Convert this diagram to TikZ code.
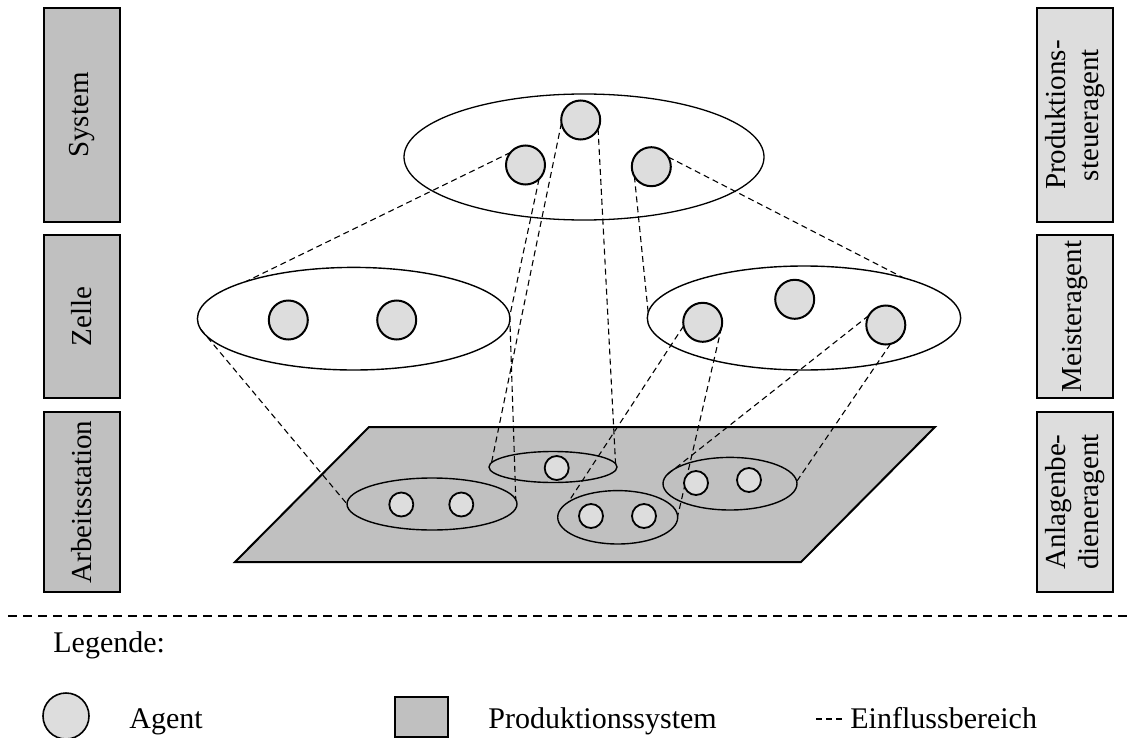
\documentclass[tikz,border=0pt]{standalone}
\usepackage{fontspec}
\setmainfont{Liberation Serif}
\usetikzlibrary{shapes.geometric}
\definecolor{planegray}{HTML}{C0C0C0}
\definecolor{agentgray}{HTML}{DDDDDD}
\begin{document}
\begin{tikzpicture}[x=0.5pt,y=-0.5pt,
  font=\fontsize{14.5}{16.5}\selectfont,
  agent/.style={circle,draw,line width=1pt,fill=agentgray,inner sep=0pt,outer sep=0pt,minimum size=19.5pt},
  smallagent/.style={agent,line width=0.9pt,minimum size=12pt},
  group/.style={ellipse,draw,line width=0.7pt,inner sep=0pt,outer sep=0pt},
  influence/.style={dash pattern=on 3pt off 2pt,line width=0.55pt},
  levelbox/.style={draw,line width=0.6pt,fill=planegray,rotate=90,minimum height=38pt,inner sep=0pt,outer sep=0pt,align=center},
  rolebox/.style={levelbox,fill=agentgray},
  label/.style={anchor=base west,inner sep=0pt,font=\fontsize{15}{17}\selectfont}]
\useasboundingbox (0,0) rectangle (1129,738);

% production floor
\coordinate (p1) at (235,562);
\coordinate (p2) at (801,562);
\coordinate (p3) at (935,427);
\coordinate (p4) at (369,427);
\draw[fill=planegray,line width=1pt] (p1) -- (p2) -- (p3) -- (p4) -- cycle;

% level and role boxes
\node[levelbox,minimum width=107pt] (lsys) at (82,115) {System};
\node[levelbox,minimum width=81.5pt] (lcell) at (82,316.5) {Zelle};
\node[levelbox,minimum width=90pt] (lws) at (82,502) {Arbeitsstation};
\node[rolebox,minimum width=107pt] (rsys) at (1075,115) {Produktions-\\steueragent};
\node[rolebox,minimum width=81.5pt] (rcell) at (1075,316.5) {Meisteragent};
\node[rolebox,minimum width=90pt] (rws) at (1075,502) {Anlagenbe-\\dieneragent};

% groups
\node[group,line width=0.65pt,minimum width=180pt,minimum height=63pt] (gs) at (584,157) {};
\node[group,minimum width=156.3pt,minimum height=51.3pt] (gl) at (353.7,318.7) {};
\node[group,minimum width=156.7pt,minimum height=52pt] (gr) at (804,318) {};
\node[group,minimum width=85pt,minimum height=26pt] (w1) at (432,504) {};
\node[group,minimum width=64pt,minimum height=15.5pt] (w2) at (553,467) {};
\node[group,minimum width=60pt,minimum height=26.7pt] (w3) at (617.7,517.3) {};
\node[group,minimum width=67pt,minimum height=26.3pt] (w4) at (730,483.7) {};

% agents of the system and cell levels
\node[agent] (s1) at (525.5,165) {};
\node[agent] (s2) at (580.7,120) {};
\node[agent] (s3) at (651.3,166.7) {};
\node[agent] (l1) at (288.3,320) {};
\node[agent] (l2) at (396.7,320) {};
\node[agent] (r1) at (702.7,322.3) {};
\node[agent] (r2) at (794.7,299.3) {};
\node[agent] (r3) at (885.8,325) {};

% areas of influence
\draw[influence] (s1.140) -- (gl.161);
\draw[influence] (s1.314) -- (gl.1);
\draw[influence] (s2.189) -- (w2.176);
\draw[influence] (s2.333) -- (w2.3);
\draw[influence] (s3.30) -- (gr.22);
\draw[influence] (s3.210) -- (gr.178);
\draw[influence] (gl.184) -- (w1.180);
\draw[influence] (gl.1) -- (w1.3);
\draw[influence] (r1.191) -- (w3.163);
\draw[influence] (r1.344) -- (w3.1);
\draw[influence] (r3.151) -- (w4.172);
\draw[influence] (r3.284) -- (w4.2);

% agents of the workstations
\node[smallagent] (a1) at (401.3,504.5) {};
\node[smallagent] (a2) at (461.3,504.5) {};
\node[smallagent] (a3) at (556.7,468) {};
\node[smallagent] (a4) at (591,516) {};
\node[smallagent] (a5) at (644,516) {};
\node[smallagent] (a6) at (696,483) {};
\node[smallagent] (a7) at (749,480) {};

% separator
\coordinate (sepl) at (8,616);
\coordinate (sepr) at (1129,616);
\draw[dash pattern=on 4.5pt off 3pt,line width=0.75pt] (sepl) -- (sepr);

% legend
\node[label] (leg) at (53,652) {Legende:};
\node[agent,minimum size=23pt,line width=0.8pt] (kagent) at (66,716) {};
\node[label] (tagent) at (129,728) {Agent};
\node[draw,fill=planegray,line width=1pt,minimum width=26.5pt,minimum height=20pt,inner sep=0pt,outer sep=0pt] (kplane) at (421.5,717) {};
\node[label] (tplane) at (488,728) {Produktionssystem};
\coordinate (kinf) at (816,719);
\coordinate (kinfe) at (842,719);
\draw[influence] (kinf) -- (kinfe);
\node[label] (tinf) at (850,728) {Einflussbereich};
\end{tikzpicture}
\end{document}
